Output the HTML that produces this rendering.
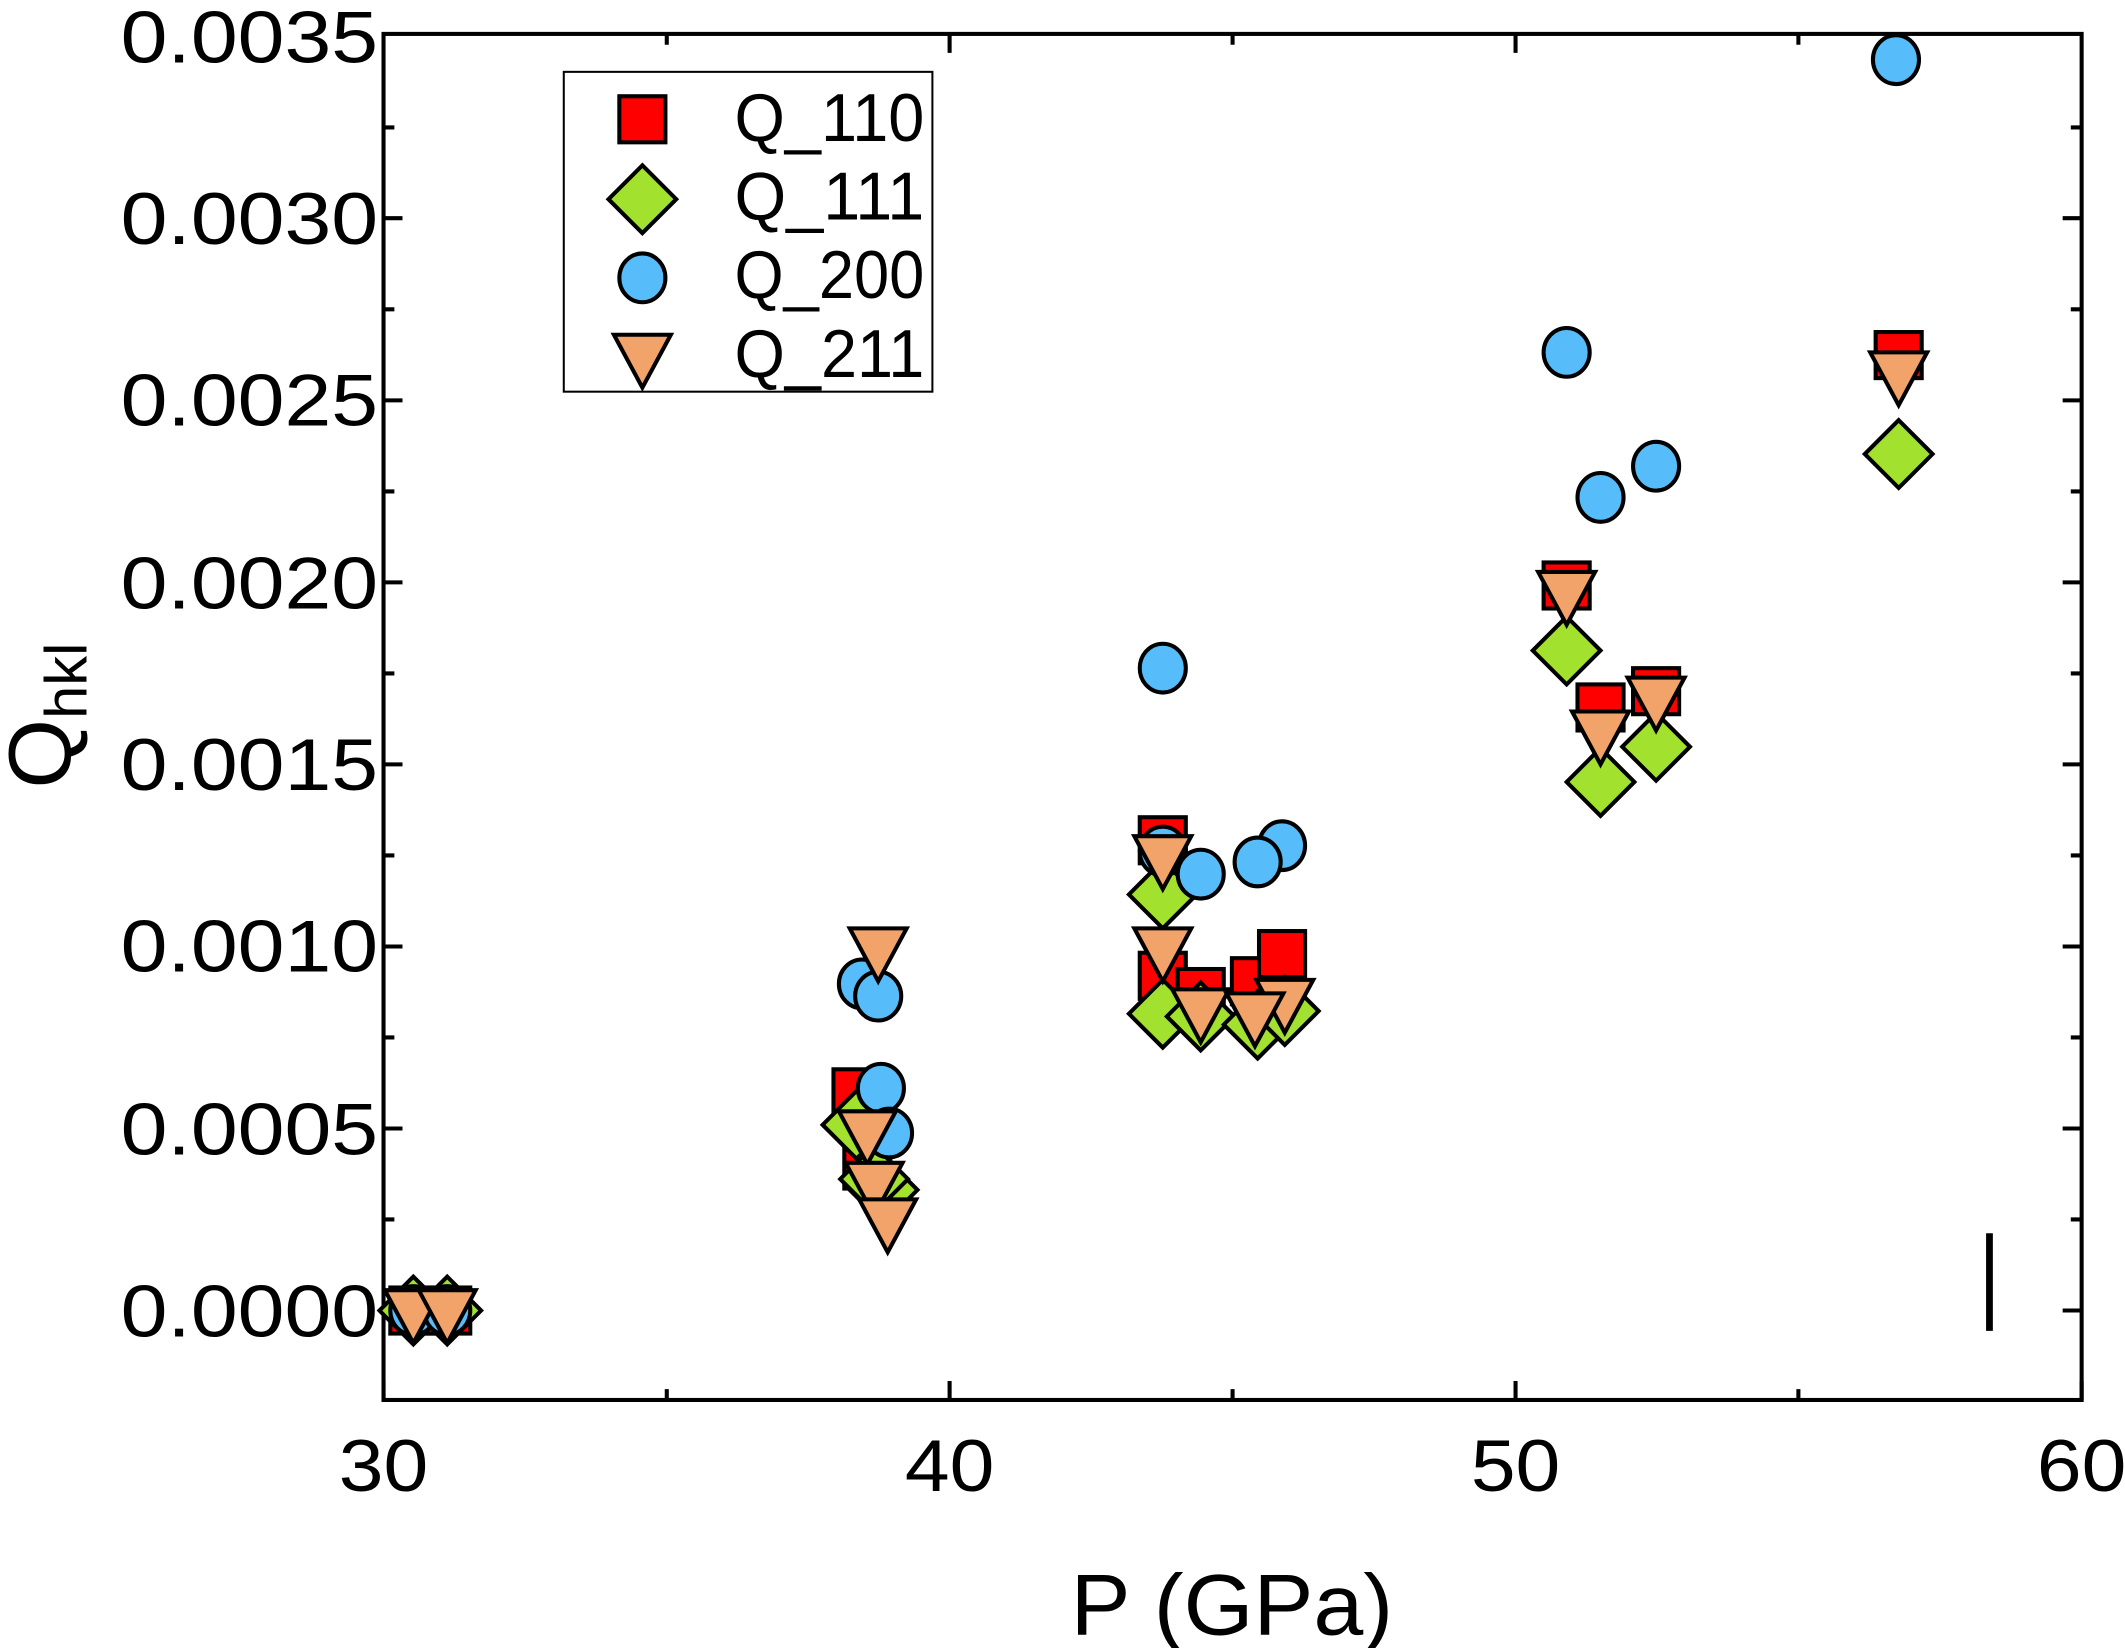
<!DOCTYPE html>
<html><head><meta charset="utf-8"><style>
html,body{margin:0;padding:0;background:#fff}
svg{display:block}
text{font-family:"Liberation Sans",Arial,sans-serif;fill:#000}
</style></head><body>
<svg width="2125" height="1648" viewBox="0 0 1568 1216" xmlns="http://www.w3.org/2000/svg">
<defs>
<rect id="sq" x="-17" y="-17" width="34" height="34" fill="#ff0000" stroke="#000" stroke-width="3"/>
<polygon id="di" points="0,-25 25,0 0,25 -25,0" fill="#a2e22e" stroke="#000" stroke-width="3"/>
<ellipse id="ci" rx="17" ry="18" fill="#57bdfa" stroke="#000" stroke-width="3"/>
<polygon id="tr" points="-21,-15 21,-15 0,24" fill="#f2a36a" stroke="#000" stroke-width="3" stroke-linejoin="miter"/>
</defs>
<g stroke="#000" stroke-width="3" fill="none">
<rect x="283" y="25" width="1253" height="1008"/>
<path d="M283,1033v-14M700.7,1033v-14M1118.3,1033v-14M1536,1033v-14M492,1033v-8M909.5,1033v-8M1327,1033v-8
M700.7,25v14M1118.3,25v14M492,25v8M909.5,25v8M1327,25v8"/>
<path d="M283,967h14M283,832.7h14M283,698.4h14M283,564h14M283,429.7h14M283,295.4h14M283,161h14
M283,899.8h8M283,765.5h8M283,631.2h8M283,496.9h8M283,362.6h8M283,228.2h8M283,94h8
M1536,967h-14M1536,832.7h-14M1536,698.4h-14M1536,564h-14M1536,429.7h-14M1536,295.4h-14M1536,161h-14
M1536,899.8h-8M1536,765.5h-8M1536,631.2h-8M1536,496.9h-8M1536,362.6h-8M1536,228.2h-8M1536,94h-8"/>
</g>
<line x1="1468" y1="910" x2="1468" y2="982" stroke="#000" stroke-width="5"/>
<g font-size="54" text-anchor="end">
<text x="279" y="986" textLength="190" lengthAdjust="spacingAndGlyphs">0.0000</text>
<text x="279" y="852" textLength="190" lengthAdjust="spacingAndGlyphs">0.0005</text>
<text x="279" y="717" textLength="190" lengthAdjust="spacingAndGlyphs">0.0010</text>
<text x="279" y="583" textLength="190" lengthAdjust="spacingAndGlyphs">0.0015</text>
<text x="279" y="449" textLength="190" lengthAdjust="spacingAndGlyphs">0.0020</text>
<text x="279" y="314" textLength="190" lengthAdjust="spacingAndGlyphs">0.0025</text>
<text x="279" y="180" textLength="190" lengthAdjust="spacingAndGlyphs">0.0030</text>
<text x="279" y="46" textLength="190" lengthAdjust="spacingAndGlyphs">0.0035</text>
</g>
<g font-size="54" text-anchor="middle">
<text x="283" y="1100" textLength="66" lengthAdjust="spacingAndGlyphs">30</text>
<text x="700.7" y="1100" textLength="66" lengthAdjust="spacingAndGlyphs">40</text>
<text x="1118.3" y="1100" textLength="66" lengthAdjust="spacingAndGlyphs">50</text>
<text x="1536" y="1100" textLength="66" lengthAdjust="spacingAndGlyphs">60</text>
</g>
<text x="909" y="1206" font-size="64" text-anchor="middle" textLength="238" lengthAdjust="spacingAndGlyphs">P (GPa)</text>
<text transform="translate(52,528) rotate(-90)" font-size="66" text-anchor="middle">Q<tspan font-size="44" dy="12">hkl</tspan></text>
<use href="#sq" x="305" y="967"/><use href="#sq" x="330" y="967"/>
<use href="#sq" x="632" y="806"/><use href="#sq" x="640" y="860"/>
<use href="#sq" x="858" y="620"/><use href="#sq" x="858" y="720"/><use href="#sq" x="886" y="732"/><use href="#sq" x="926" y="724"/><use href="#sq" x="946" y="704"/>
<use href="#sq" x="1156" y="432"/><use href="#sq" x="1181" y="522"/><use href="#sq" x="1222" y="510"/><use href="#sq" x="1401" y="262"/>
<use href="#di" x="305" y="967"/><use href="#di" x="330" y="967"/>
<use href="#di" x="632" y="830"/><use href="#di" x="652" y="878"/><use href="#di" x="645" y="870"/>
<use href="#di" x="858" y="660"/><use href="#di" x="858" y="748"/><use href="#di" x="886" y="750"/><use href="#di" x="928" y="756"/><use href="#di" x="948" y="746"/>
<use href="#di" x="1156" y="480"/><use href="#di" x="1181" y="577"/><use href="#di" x="1222" y="551"/><use href="#di" x="1401" y="335"/>
<use href="#ci" x="305" y="967"/><use href="#ci" x="330" y="967"/>
<use href="#ci" x="636" y="726"/><use href="#ci" x="648" y="735"/><use href="#ci" x="650" y="803"/><use href="#ci" x="656" y="836"/>
<use href="#ci" x="858" y="493"/><use href="#ci" x="858" y="628"/><use href="#ci" x="886" y="645"/><use href="#ci" x="946" y="624"/><use href="#ci" x="928" y="636"/>
<use href="#ci" x="1156" y="260"/><use href="#ci" x="1181" y="367"/><use href="#ci" x="1222" y="344"/><use href="#ci" x="1399" y="44"/>
<use href="#tr" x="305" y="967"/><use href="#tr" x="330" y="967"/>
<use href="#tr" x="648" y="700"/><use href="#tr" x="640" y="835"/><use href="#tr" x="645" y="873"/><use href="#tr" x="655" y="900"/>
<use href="#tr" x="858" y="632"/><use href="#tr" x="858" y="700"/><use href="#tr" x="886" y="745"/><use href="#tr" x="948" y="738"/><use href="#tr" x="926" y="748"/>
<use href="#tr" x="1156" y="437"/><use href="#tr" x="1181" y="540"/><use href="#tr" x="1222" y="515"/><use href="#tr" x="1401" y="275"/>
<rect x="416" y="53" width="272" height="236" fill="#fff" stroke="#000" stroke-width="1.5"/>
<use href="#sq" x="474" y="88"/>
<use href="#di" x="474" y="147"/>
<use href="#ci" x="474" y="205"/>
<use href="#tr" x="474" y="262"/>
<g font-size="50">
<text x="542" y="104" textLength="140" lengthAdjust="spacingAndGlyphs">Q_110</text>
<text x="542" y="162" textLength="140" lengthAdjust="spacingAndGlyphs">Q_111</text>
<text x="542" y="220" textLength="140" lengthAdjust="spacingAndGlyphs">Q_200</text>
<text x="542" y="278" textLength="140" lengthAdjust="spacingAndGlyphs">Q_211</text>
</g>
</svg>
</body></html>
